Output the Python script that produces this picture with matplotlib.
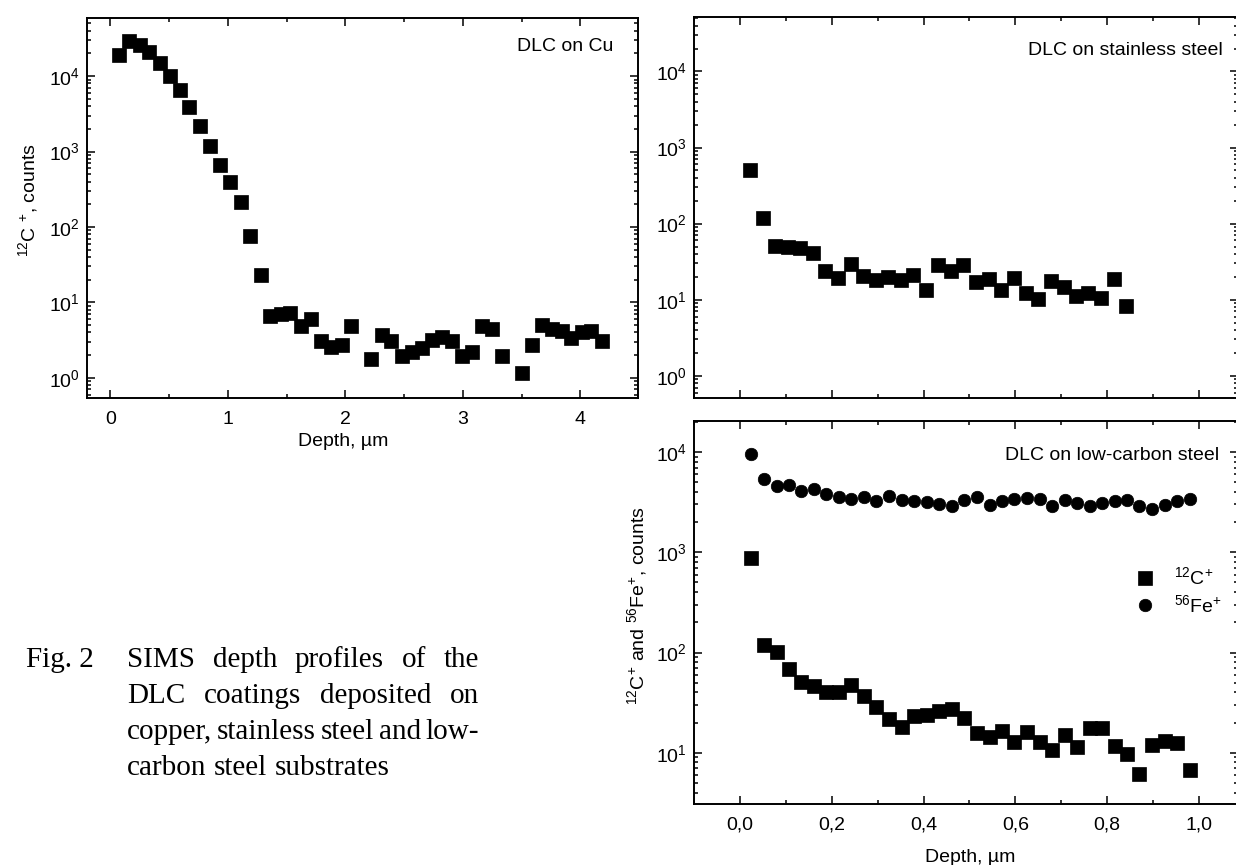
import matplotlib
matplotlib.use("Agg")
import matplotlib.pyplot as plt
from matplotlib.ticker import LogLocator, MultipleLocator, FuncFormatter, NullFormatter
from matplotlib.lines import Line2D

plt.rcParams["font.family"] = ["Liberation Sans", "DejaVu Sans"]
plt.rcParams["mathtext.fontset"] = "custom"
plt.rcParams["mathtext.rm"] = "Liberation Sans"
plt.rcParams["mathtext.it"] = "Liberation Sans:italic"
plt.rcParams["mathtext.bf"] = "Liberation Sans:bold"

# DLC on Cu, 12C+ counts vs depth (um)
cu_depth = [0.07, 0.16, 0.25, 0.33, 0.42, 0.51, 0.59, 0.67, 0.76, 0.85, 0.93,
            1.02, 1.11, 1.19, 1.28, 1.36, 1.45, 1.53, 1.62, 1.71, 1.79, 1.88,
            1.97, 2.05, 2.22, 2.31, 2.39, 2.48, 2.57, 2.65, 2.74, 2.82, 2.91,
            2.99, 3.08, 3.16, 3.25, 3.33, 3.50, 3.59, 3.67, 3.76, 3.84, 3.92,
            4.01, 4.09, 4.18]
cu_c12 = [1.9e4, 2.9e4, 2.6e4, 2.1e4, 1.5e4, 1.0e4, 6.6e3, 3.9e3, 2.2e3, 1.2e3,
          660, 390, 215, 75, 23, 6.7, 7.0, 7.3, 4.8, 6.1, 3.1, 2.6, 2.7, 4.9,
          1.75, 3.7, 3.1, 1.95, 2.2, 2.5, 3.2, 3.5, 3.1, 1.95, 2.2, 4.9, 4.5,
          1.95, 1.15, 2.7, 5.0, 4.5, 4.2, 3.4, 4.0, 4.2, 3.1]

# DLC on stainless steel
ss_depth = [0.023, 0.050, 0.077, 0.104, 0.131, 0.159, 0.186, 0.214, 0.242,
            0.269, 0.296, 0.323, 0.350, 0.377, 0.405, 0.432, 0.459, 0.486,
            0.514, 0.542, 0.569, 0.596, 0.623, 0.650, 0.677, 0.705, 0.732,
            0.759, 0.787, 0.814, 0.842]
ss_c12 = [500, 117, 51, 49, 48, 41, 23.5, 19.5, 29.5, 20.5, 18.4, 20, 18, 21,
          13.4, 28.5, 24, 28.5, 17, 18.8, 13.5, 19, 12.3, 10.2, 17.6, 14.8,
          11.2, 12.3, 10.5, 18.5, 8.3]

# DLC on low-carbon steel
lc_depth = [0.025, 0.053, 0.080, 0.107, 0.134, 0.161, 0.188, 0.216, 0.243,
            0.270, 0.297, 0.325, 0.352, 0.380, 0.407, 0.434, 0.462, 0.489,
            0.516, 0.544, 0.571, 0.598, 0.625, 0.653, 0.680, 0.708, 0.735,
            0.762, 0.789, 0.816, 0.843, 0.870, 0.897, 0.925, 0.953, 0.980]
lc_c12 = [870, 118, 101, 69, 51, 46, 40, 40, 47, 37, 28.5, 21.9, 18, 23, 24,
          26, 27.5, 22.3, 15.6, 14.3, 16.6, 12.9, 16.1, 12.9, 10.6, 14.9, 11.4,
          17.6, 17.6, 11.7, 9.7, 6.2, 11.9, 13.1, 12.4, 6.8]
lc_fe56 = [9500, 5350, 4560, 4700, 4070, 4320, 3820, 3600, 3380, 3570, 3230,
           3650, 3300, 3250, 3140, 3000, 2920, 3300, 3570, 2950, 3250, 3400,
           3450, 3400, 2880, 3350, 3070, 2920, 3080, 3230, 3350, 2880, 2700,
           2950, 3250, 3400]

caption_lines = ["SIMS depth profiles of the",
                 "DLC coatings deposited on",
                 "copper, stainless steel and low-",
                 "carbon steel substrates"]

W, H = 1236, 865
fig = plt.figure(figsize=(W / 100, H / 100), dpi=100)


def px_axes(x0, y0, x1, y1):
    # pixel box (top-left origin) -> figure axes
    return fig.add_axes([x0 / W, 1 - y1 / H, (x1 - x0) / W, (y1 - y0) / H])


def style(ax):
    for s in ax.spines.values():
        s.set_linewidth(1.4)
    ax.tick_params(which="both", direction="in", top=True, right=True,
                   labelsize=14, width=1.1)
    ax.tick_params(which="major", length=6)
    ax.tick_params(which="minor", length=3)
    ax.tick_params(axis="x", pad=9)
    ax.tick_params(axis="y", pad=5)
    ax.yaxis.set_major_locator(LogLocator(base=10, numticks=10))
    ax.yaxis.set_minor_locator(LogLocator(base=10, subs=range(2, 10), numticks=10))
    ax.yaxis.set_minor_formatter(NullFormatter())


sq = dict(marker="s", ms=9.5, color="black", ls="none", mew=0.5)
ci = dict(marker="o", ms=9, color="black", ls="none", mew=0.5)
comma = FuncFormatter(lambda v, p: f"{v:.1f}".replace(".", ","))

# top-left: Cu
ax1 = px_axes(87, 18, 638, 398)
ax1.plot(cu_depth, cu_c12, **sq)
ax1.set_yscale("log")
ax1.set_xlim(-0.2, 4.49)
ax1.set_ylim(0.54, 5.9e4)
style(ax1)
ax1.xaxis.set_major_locator(MultipleLocator(1))
ax1.xaxis.set_minor_locator(MultipleLocator(0.5))
ax1.set_xlabel("Depth, \u00b5m", fontsize=14)
ax1.xaxis.set_label_coords(0.465, -0.092)
ax1.set_ylabel("$^{12}$C $^{+}$, counts", fontsize=14)
ax1.yaxis.set_label_coords(-0.085, 0.52)
ax1.text(0.956, 0.924, "DLC on Cu", transform=ax1.transAxes,
         ha="right", va="center", fontsize=14)

# top-right: stainless steel
ax2 = px_axes(694, 17, 1238, 398)
ax2.plot(ss_depth, ss_c12, **sq)
ax2.set_yscale("log")
ax2.set_xlim(-0.1, 1.085)
ax2.set_ylim(0.51, 5.2e4)
style(ax2)
ax2.xaxis.set_major_locator(MultipleLocator(0.2))
ax2.xaxis.set_minor_locator(MultipleLocator(0.1))
ax2.tick_params(axis="x", labelbottom=False)
ax2.text(0.972, 0.913, "DLC on stainless steel", transform=ax2.transAxes,
         ha="right", va="center", fontsize=14)

# bottom-right: low-carbon steel
ax3 = px_axes(694, 421, 1238, 804)
ax3.plot(lc_depth, lc_fe56, **ci)
ax3.plot(lc_depth, lc_c12, **sq)
ax3.set_yscale("log")
ax3.set_xlim(-0.1, 1.085)
ax3.set_ylim(3.08, 2.04e4)
style(ax3)
ax3.xaxis.set_major_locator(MultipleLocator(0.2))
ax3.xaxis.set_minor_locator(MultipleLocator(0.1))
ax3.xaxis.set_major_formatter(comma)
ax3.set_xlabel("Depth, \u00b5m", fontsize=14)
ax3.xaxis.set_label_coords(0.507, -0.117)
ax3.set_ylabel("$^{12}$C$^{+}$ and $^{56}$Fe$^{+}$, counts", fontsize=14)
ax3.yaxis.set_label_coords(-0.083, 0.517)
ax3.text(0.965, 0.910, "DLC on low-carbon steel", transform=ax3.transAxes,
         ha="right", va="center", fontsize=14)
handles = [Line2D([], [], **sq), Line2D([], [], **ci)]
ax3.legend(handles, ["$^{12}$C$^{+}$", "$^{56}$Fe$^{+}$"], loc="upper right",
           bbox_to_anchor=(0.985, 0.64), frameon=False, fontsize=14,
           handlelength=1.0, handletextpad=1.0, labelspacing=0.3,
           borderaxespad=0)

# caption, justified
serif = ["Liberation Serif", "DejaVu Serif"]
cap_size = 21
fig.text(26 / W, 1 - 667 / H, "Fig. 2", fontsize=cap_size, family=serif,
         ha="left", va="baseline")
renderer = fig.canvas.get_renderer()
x_left, x_right = 127, 479
baselines = [667, 703, 739, 775]
for i, line in enumerate(caption_lines):
    words = line.split()
    texts = [fig.text(0, 1 - baselines[i] / H, w, fontsize=cap_size,
                      family=serif, ha="left", va="baseline") for w in words]
    widths = [t.get_window_extent(renderer).width for t in texts]
    if i < len(caption_lines) - 1:
        gap = (x_right - x_left - sum(widths)) / (len(words) - 1)
    else:
        gap = 0.25 * cap_size * 100 / 72
    x = x_left
    for t, w in zip(texts, widths):
        t.set_x(x / W)
        x += w + gap

fig.savefig("out.png", dpi=100)
